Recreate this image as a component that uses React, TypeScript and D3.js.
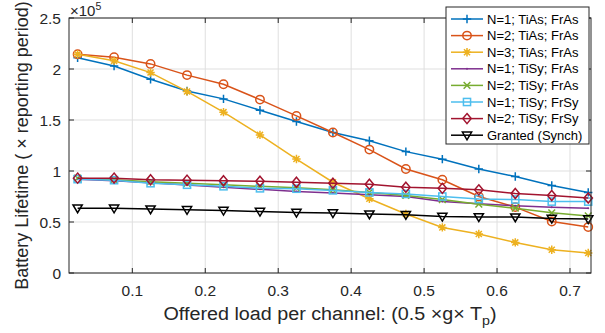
import React from "react";
import * as d3 from "d3";

// offered load values (x)
const loads = [0.025, 0.075, 0.125, 0.175, 0.225, 0.275, 0.325, 0.375, 0.425, 0.475, 0.525, 0.575, 0.625, 0.675, 0.725];

// battery lifetime, x 1e5 reporting periods
const n1TiAsFrAs = [2.11, 2.03, 1.9, 1.785, 1.707, 1.596, 1.485, 1.377, 1.296, 1.19, 1.116, 1.02, 0.946, 0.858, 0.79];
const n2TiAsFrAs = [2.145, 2.115, 2.05, 1.94, 1.85, 1.7, 1.54, 1.377, 1.21, 1.02, 0.914, 0.75, 0.646, 0.505, 0.45];
const n3TiAsFrAs = [2.145, 2.08, 1.965, 1.78, 1.577, 1.354, 1.117, 0.89, 0.728, 0.578, 0.447, 0.382, 0.3, 0.228, 0.196];
const n1TiSyFrAs = [0.92, 0.905, 0.885, 0.862, 0.84, 0.82, 0.8, 0.785, 0.767, 0.75, 0.7, 0.68, 0.66, 0.645, 0.635];
const n2TiSyFrAs = [0.93, 0.915, 0.895, 0.88, 0.865, 0.85, 0.835, 0.815, 0.79, 0.76, 0.72, 0.675, 0.635, 0.59, 0.56];
const n1TiSyFrSy = [0.92, 0.91, 0.88, 0.865, 0.85, 0.83, 0.826, 0.81, 0.79, 0.775, 0.75, 0.725, 0.72, 0.7, 0.7];
const n2TiSyFrSy = [0.93, 0.93, 0.914, 0.91, 0.904, 0.9, 0.89, 0.88, 0.87, 0.84, 0.83, 0.815, 0.78, 0.76, 0.735];
const granted = [0.636, 0.635, 0.627, 0.62, 0.613, 0.603, 0.594, 0.588, 0.578, 0.571, 0.555, 0.55, 0.548, 0.535, 0.53];

const xTicks = [0.1, 0.2, 0.3, 0.4, 0.5, 0.6, 0.7];
const yTicks = [0, 0.5, 1, 1.5, 2, 2.5];

const series = [
  { name: "N=1; TiAs; FrAs", values: n1TiAsFrAs, color: "#0072BD", marker: "plus" },
  { name: "N=2; TiAs; FrAs", values: n2TiAsFrAs, color: "#D95319", marker: "circle" },
  { name: "N=3; TiAs; FrAs", values: n3TiAsFrAs, color: "#EDB120", marker: "star" },
  { name: "N=1; TiSy; FrAs", values: n1TiSyFrAs, color: "#7E2F8E", marker: "point" },
  { name: "N=2; TiSy; FrAs", values: n2TiSyFrAs, color: "#77AC30", marker: "cross" },
  { name: "N=1; TiSy; FrSy", values: n1TiSyFrSy, color: "#4DBEEE", marker: "square" },
  { name: "N=2; TiSy; FrSy", values: n2TiSyFrSy, color: "#A2142F", marker: "diamond" },
  { name: "Granted (Synch)", values: granted, color: "#000000", marker: "tri" },
];

const W = 605, H = 333;
const m = { left: 69, right: 14, top: 18, bottom: 60 };
const FONT = "'Liberation Sans', Arial, Helvetica, sans-serif";
const AX = "#262626";

function Marker({ type, x, y, color }: { type: string; x: number; y: number; color: string }) {
  const s = 4.2;
  const common = { fill: "none", stroke: color, strokeWidth: 1.5 };
  switch (type) {
    case "plus":
      return <path d={`M${x - s},${y}H${x + s}M${x},${y - s}V${y + s}`} {...common} />;
    case "circle":
      return <circle cx={x} cy={y} r={s} {...common} />;
    case "star": {
      const d = s * 0.72;
      return (
        <path
          d={`M${x - s},${y}H${x + s}M${x},${y - s}V${y + s}M${x - d},${y - d}L${x + d},${y + d}M${x - d},${y + d}L${x + d},${y - d}`}
          {...common}
        />
      );
    }
    case "point":
      return <circle cx={x} cy={y} r={1} fill={color} />;
    case "cross": {
      const d = s * 0.8;
      return <path d={`M${x - d},${y - d}L${x + d},${y + d}M${x - d},${y + d}L${x + d},${y - d}`} {...common} />;
    }
    case "square":
      return <rect x={x - s * 0.85} y={y - s * 0.85} width={s * 1.7} height={s * 1.7} {...common} />;
    case "diamond":
      return <path d={`M${x},${y - s * 1.2}L${x + s},${y}L${x},${y + s * 1.2}L${x - s},${y}Z`} {...common} />;
    case "tri":
      return <path d={`M${x - s * 1.1},${y - s * 0.75}H${x + s * 1.1}L${x},${y + s * 1.1}Z`} {...common} />;
    default:
      return null;
  }
}

export default function App() {
  const x = d3.scaleLinear().domain([0.0132, 0.7288]).range([m.left, W - m.right]);
  const y = d3.scaleLinear().domain([0, 2.5]).range([H - m.bottom, m.top]);
  const line = d3
    .line<number>()
    .x((_, i) => x(loads[i]))
    .y((d) => y(d));

  const x0 = m.left, x1 = W - m.right, y0 = H - m.bottom, y1 = m.top;
  const legX = 446, legY = 7, legW = 143, legH = 137;
  const rowH = 16.6;

  return (
    <svg width={W} height={H} style={{ position: "absolute", left: 0, top: 0, background: "#fff" }} fontFamily={FONT}>
      <rect x={0} y={0} width={W} height={H} fill="#fff" />
      {/* grid */}
      {xTicks.map((t) => (
        <line key={"gx" + t} x1={x(t)} x2={x(t)} y1={y0} y2={y1} stroke="#dfdfdf" strokeWidth={1} />
      ))}
      {yTicks.map((t) => (
        <line key={"gy" + t} x1={x0} x2={x1} y1={y(t)} y2={y(t)} stroke="#dfdfdf" strokeWidth={1} />
      ))}

      {/* series */}
      {series.map((s) => (
        <g key={s.name}>
          <path d={line(s.values) || ""} fill="none" stroke={s.color} strokeWidth={1.5} />
          {s.values.map((v, i) => (
            <Marker key={i} type={s.marker} x={x(loads[i])} y={y(v)} color={s.color} />
          ))}
        </g>
      ))}

      {/* axes box */}
      <rect x={x0} y={y1} width={x1 - x0} height={y0 - y1} fill="none" stroke={AX} strokeWidth={1} />
      {xTicks.map((t) => (
        <g key={"tx" + t}>
          <line x1={x(t)} x2={x(t)} y1={y0} y2={y0 - 5} stroke={AX} />
          <line x1={x(t)} x2={x(t)} y1={y1} y2={y1 + 5} stroke={AX} />
          <text x={x(t)} y={296} textAnchor="middle" fontSize={15.5} fill={AX}>
            {t}
          </text>
        </g>
      ))}
      {yTicks.map((t) => (
        <g key={"ty" + t}>
          <line x1={x0} x2={x0 + 5} y1={y(t)} y2={y(t)} stroke={AX} />
          <line x1={x1} x2={x1 - 5} y1={y(t)} y2={y(t)} stroke={AX} />
          <text x={61} y={y(t) + 5.5} textAnchor="end" fontSize={15.5} fill={AX}>
            {t}
          </text>
        </g>
      ))}

      {/* exponent */}
      <text x={70} y={15.5} fontSize={15} fill={AX}>
        ×10<tspan dy={-5.5} fontSize={10.5}>5</tspan>
      </text>

      {/* axis labels */}
      <text
        x={(x0 + x1) / 2}
        y={320}
        textAnchor="middle"
        fontSize={18}
        fill={AX}
        textLength={333}
        lengthAdjust="spacingAndGlyphs"
      >
        Offered load per channel: (0.5 ×g× T<tspan dy={5} fontSize={13}>p</tspan>
        <tspan dy={-5}>)</tspan>
      </text>
      <text
        transform={`translate(28,${(y0 + y1) / 2}) rotate(-90)`}
        textAnchor="middle"
        fontSize={18}
        fill={AX}
      >
        Battery Lifetime ( × reporting period)
      </text>

      {/* legend */}
      <rect x={legX} y={legY} width={legW} height={legH} fill="#fff" stroke={AX} strokeWidth={1} />
      {series.map((s, i) => {
        const cy = legY + 12 + i * rowH;
        return (
          <g key={"lg" + s.name}>
            <line x1={451} x2={483} y1={cy} y2={cy} stroke={s.color} strokeWidth={1.5} />
            <Marker type={s.marker} x={467} y={cy} color={s.color} />
            <text x={487} y={cy + 4.5} fontSize={13} fill="#000">
              {s.name}
            </text>
          </g>
        );
      })}
    </svg>
  );
}
